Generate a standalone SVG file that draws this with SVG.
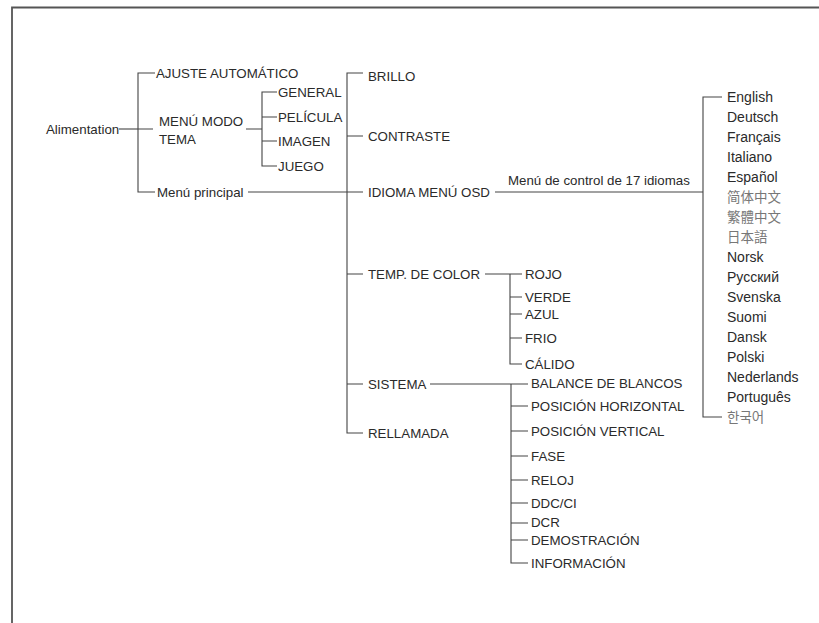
<svg xmlns="http://www.w3.org/2000/svg" width="819" height="623" viewBox="0 0 819 623">
<style>
text{font-family:"Liberation Sans",Arial,sans-serif;font-size:13.3px;fill:#2a2a2a}
.lang{font-size:14px}
.cjk{font-family:"Noto Sans CJK SC","Noto Sans CJK JP",sans-serif;fill:#777;font-size:13.5px;font-weight:400}
.kr{font-family:"Noto Sans CJK KR",sans-serif;fill:#777;font-size:13.5px;font-weight:400}
.c{fill:none;stroke:#444;stroke-width:1.1}
.frame{fill:none;stroke:#555;stroke-width:1.8}
</style>
<rect width="819" height="623" fill="#fff"/>
<path class="frame" d="M12,623 V7.5 H819"/>
<g id="connectors" class="c">
<path d="M119,129 H138"/>
<path d="M155,73 H138 V192 H155 M138,129 H153"/>
<path d="M248,192 H347"/>
<path d="M246,129 H262 M277,92 H262 V166 H277 M262,117 H277 M262,141 H277"/>
<path d="M363,73 H347 V433 H363 M347,136 H363 M347,192 H363 M347,274 H363 M347,384 H363"/>
<path d="M495,192 H703"/>
<path d="M722,97 H703 V417 H722"/>
<path d="M485,274 H522 M510,274 V364 H522 M510,297 H522 M510,314 H522 M510,338 H522"/>
<path d="M430,384 H528 M511,384 V563 H528 M511,406 H528 M511,431 H528 M511,456 H528 M511,480 H528 M511,503 H528 M511,523 H528 M511,540 H528"/>
</g>
<g id="alimentation"><text x="46" y="133.5">Alimentation</text></g>
<g id="ajuste"><text x="156" y="78">AJUSTE AUTOMÁTICO</text></g>
<g id="menu-modo"><text x="159" y="126">MENÚ MODO</text><text x="159" y="143.5">TEMA</text></g>
<g id="menu-principal"><text x="157" y="196.5">Menú principal</text></g>
<g id="general"><text x="278" y="97">GENERAL</text></g>
<g id="pelicula"><text x="278" y="122">PELÍCULA</text></g>
<g id="imagen"><text x="278" y="146">IMAGEN</text></g>
<g id="juego"><text x="278" y="170.5">JUEGO</text></g>
<g id="brillo"><text x="368" y="80.5">BRILLO</text></g>
<g id="contraste"><text x="368" y="140.5">CONTRASTE</text></g>
<g id="idioma"><text x="368" y="196.5">IDIOMA MENÚ OSD</text></g>
<g id="idioma-label"><text x="508" y="184.5">Menú de control de 17 idiomas</text></g>
<g id="temp"><text x="368" y="278.5">TEMP. DE COLOR</text></g>
<g id="rojo"><text x="525" y="278.5">ROJO</text></g>
<g id="verde"><text x="525" y="301.5">VERDE</text></g>
<g id="azul"><text x="525" y="318.5">AZUL</text></g>
<g id="frio"><text x="525" y="342.5">FRIO</text></g>
<g id="calido"><text x="525" y="368.5">CÁLIDO</text></g>
<g id="sistema"><text x="368" y="388.5">SISTEMA</text></g>
<g id="rellamada"><text x="368" y="437.5">RELLAMADA</text></g>
<g id="balance"><text x="531" y="388">BALANCE DE BLANCOS</text></g>
<g id="pos-h"><text x="531" y="410.5">POSICIÓN HORIZONTAL</text></g>
<g id="pos-v"><text x="531" y="435.5">POSICIÓN VERTICAL</text></g>
<g id="fase"><text x="531" y="460.5">FASE</text></g>
<g id="reloj"><text x="531" y="484.5">RELOJ</text></g>
<g id="ddcci"><text x="531" y="507.5">DDC/CI</text></g>
<g id="dcr"><text x="531" y="527">DCR</text></g>
<g id="demo"><text x="531" y="544.5">DEMOSTRACIÓN</text></g>
<g id="info"><text x="531" y="567.5">INFORMACIÓN</text></g>
<g id="languages">
<text class="lang" x="727" y="102">English</text>
<text class="lang" x="727" y="122">Deutsch</text>
<text class="lang" x="727" y="142">Français</text>
<text class="lang" x="727" y="162">Italiano</text>
<text class="lang" x="727" y="182">Español</text>
<text class="cjk" x="727" y="202">简体中文</text>
<text class="cjk" x="727" y="222">繁體中文</text>
<text class="cjk" x="727" y="242">日本語</text>
<text class="lang" x="727" y="262">Norsk</text>
<text class="lang" x="727" y="282">Русский</text>
<text class="lang" x="727" y="302">Svenska</text>
<text class="lang" x="727" y="322">Suomi</text>
<text class="lang" x="727" y="342">Dansk</text>
<text class="lang" x="727" y="362">Polski</text>
<text class="lang" x="727" y="382">Nederlands</text>
<text class="lang" x="727" y="402">Português</text>
<text class="kr" x="727" y="422">한국어</text>
</g>
</svg>
